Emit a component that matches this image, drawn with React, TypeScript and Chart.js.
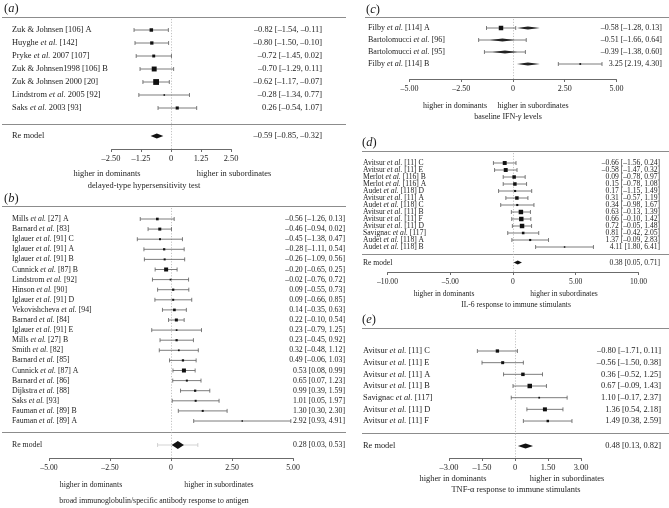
import React, { useEffect, useRef } from 'react';
import { Chart, registerables } from 'chart.js';

Chart.register(...registerables);

// ---------------- data ----------------
// (a) delayed-type hypersensitivity test
const aStudies = ['Zuk & Johnsen [106] A', 'Huyghe et al. [142]', 'Pryke et al. 2007 [107]', 'Zuk & Johnsen1998 [106] B', 'Zuk & Johnsen 2000 [20]', 'Lindstrom et al. 2005 [92]', 'Saks et al. 2003 [93]'];
const aEst = [-0.82, -0.80, -0.72, -0.70, -0.62, -0.28, 0.26];
const aLow = [-1.54, -1.50, -1.45, -1.29, -1.17, -1.34, -0.54];
const aHigh = [-0.11, -0.10, 0.02, 0.11, -0.07, 0.77, 1.07];
const aWeight = [10, 9, 7, 20, 28, 2, 8];
const aModel = [-0.59, -0.85, -0.32];
const aTicks = [-2.5, -1.25, 0, 1.25, 2.5];

// (b) broad immunoglobulin / specific antibody response
const bStudies = ['Mills et al. [27] A', 'Barnard et al. [83]', 'Iglauer et al. [91] C', 'Iglauer et al. [91] A', 'Iglauer et al. [91] B', 'Cunnick et al. [87] B', 'Lindstrom et al. [92]', 'Hinson et al. [90]', 'Iglauer et al. [91] D', 'Vekovishcheva et al. [94]', 'Barnard et al. [84]', 'Iglauer et al. [91] E', 'Mills et al. [27] B', 'Smith et al. [82]', 'Barnard et al. [85]', 'Cunnick et al. [87] A', 'Barnard et al. [86]', 'Dijkstra et al. [88]', 'Saks et al. [93]', 'Fauman et al. [89] B', 'Fauman et al. [89] A'];
const bEst = [-0.56, -0.46, -0.45, -0.28, -0.26, -0.20, -0.02, 0.09, 0.09, 0.14, 0.22, 0.23, 0.23, 0.32, 0.49, 0.53, 0.65, 0.99, 1.01, 1.30, 2.92];
const bLow = [-1.26, -0.94, -1.38, -1.11, -1.09, -0.65, -0.76, -0.55, -0.66, -0.35, -0.10, -0.79, -0.45, -0.48, -0.06, 0.08, 0.07, 0.39, 0.05, 0.30, 0.93];
const bHigh = [0.13, 0.02, 0.47, 0.54, 0.56, 0.25, 0.72, 0.73, 0.85, 0.63, 0.54, 1.25, 0.92, 1.12, 1.03, 0.99, 1.23, 1.59, 1.97, 2.30, 4.91];
const bWeight = [7, 9, 4, 5, 4, 16, 3, 5, 4, 7, 9, 3, 5, 3, 5, 16, 4, 5, 4, 4, 2];
const bModel = [0.28, 0.03, 0.53];
const bPrediction = [-0.55, 1.10];
const bTicks = [-5, -2.5, 0, 2.5, 5];

// (c) baseline IFN-gamma levels
const cStudies = ['Filby et al. [114] A', 'Bartolomucci et al. [96]', 'Bartolomucci et al. [95]', 'Filby et al. [114] B'];
const cEst = [-0.58, -0.51, -0.39, 3.25];
const cLow = [-1.28, -1.66, -1.38, 2.19];
const cHigh = [0.13, 0.64, 0.60, 4.30];
const cWeight = [20, 9, 9, 3];
const cPooled = [0.72, 0.19, 1.30];
const cTicks = [-5, -2.5, 0, 2.5, 5];

// (d) IL-6 response to immune stimulants
const dStudies = ['Avitsur et al. [11] C', 'Avitsur et al. [11] E', 'Merlot et al. [116] B', 'Merlot et al. [116] A', 'Audet et al. [118] D', 'Avitsur et al. [11] A', 'Audet et al. [118] C', 'Avitsur et al. [11] B', 'Avitsur et al. [11] F', 'Avitsur et al. [11] D', 'Savignac et al. [117]', 'Audet et al. [118] A', 'Audet et al. [118] B'];
const dEst = [-0.66, -0.58, 0.09, 0.15, 0.17, 0.31, 0.34, 0.63, 0.66, 0.72, 0.81, 1.37, 4.11];
const dLow = [-1.56, -1.47, -0.78, -0.78, -1.15, -0.57, -0.98, -0.13, -0.10, -0.05, -0.42, -0.09, 1.80];
const dHigh = [0.24, 0.32, 0.97, 1.08, 1.49, 1.19, 1.67, 1.39, 1.42, 1.48, 2.05, 2.83, 6.41];
const dWeight = [14, 14, 11, 11, 4, 11, 4, 18, 18, 18, 6, 4, 2];
const dModel = [0.38, 0.05, 0.71];
const dTicks = [-10, -5, 0, 5, 10];

// (e) TNF-alpha response to immune stimulants
const eStudies = ['Avitsur et al. [11] C', 'Avitsur et al. [11] E', 'Avitsur et al. [11] A', 'Avitsur et al. [11] B', 'Savignac et al. [117]', 'Avitsur et al. [11] D', 'Avitsur et al. [11] F'];
const eEst = [-0.80, -0.56, 0.36, 0.67, 1.10, 1.36, 1.49];
const eLow = [-1.71, -1.50, -0.52, -0.09, -0.17, 0.54, 0.38];
const eHigh = [0.11, 0.38, 1.25, 1.43, 2.37, 2.18, 2.59];
const eWeight = [11, 9, 12, 20, 3, 16, 6];
const eModel = [0.48, 0.13, 0.82];
const eTicks = [-3, -1.5, 0, 1.5, 3];

// ---------------- layout / style ----------------
const SERIF = '"Liberation Serif", "Times New Roman", serif';
const AXIS_H = 16;
const TEXT = '#1c1c1c';

type Spec = {
  id: string; tag: string;
  left: number; top: number; width: number; height: number;
  studies: string[]; est: number[]; low: number[]; high: number[]; weight: number[];
  model?: number[]; prediction?: number[];
  ticks: number[];
  zeroX: number; ppu: number;
  row0: number; rowStep: number;
  tagX: number; tagY: number;
  rules: number[]; ruleX0: number; ruleX1: number;
  modelY?: number; axisY: number;
  labelX: number; ciRight: number;
  font: number; markerK: number; diamondH: number;
  lowAt: [number, number]; highAt: [number, number];
  title: string; titleAt: [number, number];
  lensRows?: number[]; pooled?: number[]; pooledRows?: number[];
};

const specs: Spec[] = [
  {
    id: 'a', tag: 'a', left: 0, top: 0, width: 348, height: 192,
    studies: aStudies, est: aEst, low: aLow, high: aHigh, weight: aWeight, model: aModel,
    ticks: aTicks, zeroX: 171, ppu: 24, row0: 30, rowStep: 13,
    tagX: 4, tagY: 9, rules: [17, 124], ruleX0: 2, ruleX1: 346, modelY: 136, axisY: 149,
    labelX: 12, ciRight: 322, font: 8.4, markerK: 1.1, diamondH: 2.5,
    lowAt: [107, 174], highAt: [234, 174], title: 'delayed-type hypersensitivity test', titleAt: [144, 186],
  },
  {
    id: 'b', tag: 'b', left: 0, top: 192, width: 348, height: 316,
    studies: bStudies, est: bEst, low: bLow, high: bHigh, weight: bWeight, model: bModel, prediction: bPrediction,
    ticks: bTicks, zeroX: 171, ppu: 24.4, row0: 219, rowStep: 10.1,
    tagX: 4, tagY: 199, rules: [206, 432], ruleX0: 2, ruleX1: 346, modelY: 445, axisY: 458,
    labelX: 12, ciRight: 345, font: 7.8, markerK: 1.0, diamondH: 4,
    lowAt: [91, 485], highAt: [219, 485], title: 'broad immunoglobulin/specific antibody response to antigen', titleAt: [154, 501],
  },
  {
    id: 'c', tag: 'c', left: 348, top: 0, width: 321, height: 125,
    studies: cStudies, est: cEst, low: cLow, high: cHigh, weight: cWeight,
    ticks: cTicks, zeroX: 513, ppu: 20.7, row0: 28, rowStep: 12,
    tagX: 366, tagY: 10, rules: [17], ruleX0: 365, ruleX1: 669, axisY: 79,
    labelX: 368, ciRight: 662, font: 8.0, markerK: 1.0, diamondH: 2,
    lowAt: [455, 106], highAt: [533, 106], title: 'baseline IFN-γ levels', titleAt: [508, 117],
    lensRows: [1, 2], pooled: cPooled, pooledRows: [0, 3],
  },
  {
    id: 'd', tag: 'd', left: 348, top: 125, width: 321, height: 187,
    studies: dStudies, est: dEst, low: dLow, high: dHigh, weight: dWeight, model: dModel,
    ticks: dTicks, zeroX: 513, ppu: 12.55, row0: 163, rowStep: 7.0,
    tagX: 362, tagY: 143, rules: [151, 254], ruleX0: 362, ruleX1: 669, modelY: 262.5, axisY: 272,
    labelX: 363, ciRight: 660, font: 7.6, markerK: 1.05, diamondH: 2,
    lowAt: [444, 294], highAt: [564, 294], title: 'IL-6 response to immune stimulants', titleAt: [516, 305],
  },
  {
    id: 'e', tag: 'e', left: 348, top: 312, width: 321, height: 196,
    studies: eStudies, est: eEst, low: eLow, high: eHigh, weight: eWeight, model: eModel,
    ticks: eTicks, zeroX: 515, ppu: 22, row0: 351, rowStep: 11.67,
    tagX: 362, tagY: 320, rules: [328, 433], ruleX0: 362, ruleX1: 669, modelY: 446, axisY: 458,
    labelX: 363, ciRight: 661, font: 8.4, markerK: 1.0, diamondH: 2.5,
    lowAt: [453, 479], highAt: [567, 479], title: 'TNF-α response to immune stimulants', titleAt: [516, 490],
  },
];

// ---------------- helpers ----------------
function fmt(v: number): string {
  if (Math.abs(v) < 1e-9) return '0';
  return (v < 0 ? '\u2013' : '') + Math.abs(v).toFixed(2);
}
function ciText(e: number, l: number, h: number): string {
  return `${fmt(e)} [${fmt(l)}, ${fmt(h)}]`;
}

function richText(ctx: CanvasRenderingContext2D, text: string, x: number, y: number, size: number, align: 'left' | 'right' | 'center', italicParts: RegExp = /(et al\.|γ)/) {
  const parts = text.split(italicParts).filter((s) => s.length > 0);
  const isIt = (s: string) => s === 'et al.' || s === 'γ' || (s.length === 1 && /[a-e]/.test(s));
  const fontOf = (s: string) => `${isIt(s) ? 'italic ' : ''}${size}px ${SERIF}`;
  let total = 0;
  const ws = parts.map((s) => { ctx.font = fontOf(s); const w = ctx.measureText(s).width; total += w; return w; });
  let cx = align === 'left' ? x : align === 'right' ? x - total : x - total / 2;
  ctx.textAlign = 'left';
  ctx.textBaseline = 'middle';
  ctx.fillStyle = TEXT;
  parts.forEach((s, i) => { ctx.font = fontOf(s); ctx.fillText(s, cx, y); cx += ws[i]; });
}

function drawDiamond(ctx: CanvasRenderingContext2D, xl: number, xc: number, xr: number, y: number, h: number, color: string) {
  ctx.beginPath();
  ctx.moveTo(xl, y);
  ctx.lineTo(xc, y - h);
  ctx.lineTo(xr, y);
  ctx.lineTo(xc, y + h);
  ctx.closePath();
  ctx.fillStyle = color;
  ctx.fill();
}

function makePlugin(s: Spec) {
  return {
    id: 'forest_' + s.id,
    beforeDatasetsDraw(chart: any) {
      const ctx: CanvasRenderingContext2D = chart.ctx;
      const xs = chart.scales.x;
      const ys = chart.scales.y;
      const X = (v: number) => xs.getPixelForValue(v);
      const Y = (v: number) => ys.getPixelForValue(v);
      const rowOf = (py: number) => (py - s.row0) / s.rowStep;
      const lx = (px: number) => px - s.left;
      ctx.save();
      // horizontal rules
      ctx.strokeStyle = '#8c8c8c';
      ctx.lineWidth = 1;
      s.rules.forEach((ry) => {
        const y = Math.round(Y(rowOf(ry))) + 0.5;
        ctx.beginPath();
        ctx.moveTo(lx(s.ruleX0), y);
        ctx.lineTo(lx(s.ruleX1), y);
        ctx.stroke();
      });
      // dotted reference line at zero
      ctx.strokeStyle = '#b4b4b4';
      ctx.lineWidth = 0.8;
      ctx.setLineDash([1.2, 1.6]);
      const zx = Math.round(X(0)) + 0.5;
      ctx.beginPath();
      ctx.moveTo(zx, Y(rowOf(s.rules[0])) + 2);
      ctx.lineTo(zx, Y(rowOf(s.axisY)));
      ctx.stroke();
      ctx.setLineDash([]);
      // confidence intervals
      ctx.strokeStyle = '#5c5c5c';
      ctx.lineWidth = 0.8;
      s.est.forEach((_, i) => {
        const y = Y(i);
        const x1 = X(s.low[i]);
        const x2 = X(s.high[i]);
        ctx.beginPath();
        ctx.moveTo(x1, y); ctx.lineTo(x2, y);
        ctx.moveTo(x1, y - 2); ctx.lineTo(x1, y + 2);
        ctx.moveTo(x2, y - 2); ctx.lineTo(x2, y + 2);
        ctx.stroke();
      });
      // lens-shaped markers (panel c)
      (s.lensRows || []).forEach((i) => {
        drawDiamond(ctx, X(s.est[i] - 0.6), X(s.est[i]), X(s.est[i] + 0.6), Y(i), 1.6, '#222');
      });
      (s.pooledRows || []).forEach((i) => {
        const p = s.pooled!;
        drawDiamond(ctx, X(p[1]), X(p[0]), X(p[2]), Y(i), 1.6, '#222');
      });
      // summary (RE model)
      if (s.model && s.modelY !== undefined) {
        const y = Y(rowOf(s.modelY));
        if (s.prediction) {
          ctx.strokeStyle = '#c8c8c8';
          ctx.lineWidth = 0.8;
          const p1 = X(s.prediction[0]);
          const p2 = X(s.prediction[1]);
          ctx.beginPath();
          ctx.moveTo(p1, y); ctx.lineTo(p2, y);
          ctx.moveTo(p1, y - 2); ctx.lineTo(p1, y + 2);
          ctx.moveTo(p2, y - 2); ctx.lineTo(p2, y + 2);
          ctx.stroke();
        }
        drawDiamond(ctx, X(s.model[1]), X(s.model[0]), X(s.model[2]), y, s.diamondH, '#111');
      }
      ctx.restore();
    },
    afterDraw(chart: any) {
      const ctx: CanvasRenderingContext2D = chart.ctx;
      const ys = chart.scales.y;
      const Y = (v: number) => ys.getPixelForValue(v);
      const rowOf = (py: number) => (py - s.row0) / s.rowStep;
      const lx = (px: number) => px - s.left;
      const ly = (py: number) => py - s.top;
      ctx.save();
      // panel tag
      richText(ctx, `(${s.tag})`, lx(s.tagX), ly(s.tagY), 12.5, 'left', /([a-e])/);
      // study rows
      s.studies.forEach((name, i) => {
        richText(ctx, name, lx(s.labelX), Y(i), s.font, 'left');
        richText(ctx, ciText(s.est[i], s.low[i], s.high[i]), lx(s.ciRight), Y(i), s.font, 'right');
      });
      if (s.model && s.modelY !== undefined) {
        const y = Y(rowOf(s.modelY));
        richText(ctx, 'Re model', lx(s.labelX), y, s.font, 'left');
        richText(ctx, ciText(s.model[0], s.model[1], s.model[2]), lx(s.ciRight), y, s.font, 'right');
      }
      richText(ctx, 'higher in dominants', lx(s.lowAt[0]), ly(s.lowAt[1]), s.font, 'center');
      richText(ctx, 'higher in subordinates', lx(s.highAt[0]), ly(s.highAt[1]), s.font, 'center');
      richText(ctx, s.title, lx(s.titleAt[0]), ly(s.titleAt[1]), s.font, 'center');
      ctx.restore();
    },
  };
}

function ForestPanel({ spec }: { spec: Spec }) {
  const ref = useRef<HTMLCanvasElement | null>(null);
  useEffect(() => {
    const canvas = ref.current;
    if (!canvas) return;
    const s = spec;
    const xMin = s.ticks[0];
    const xMax = s.ticks[s.ticks.length - 1];
    const padL = s.zeroX + xMin * s.ppu - s.left;
    const padR = s.width - (s.zeroX + xMax * s.ppu - s.left);
    const padT = 2;
    const vTop = (s.top + padT - s.row0) / s.rowStep;
    const vAxis = (s.axisY - s.row0) / s.rowStep;
    const padB = s.height - (s.axisY - s.top) - AXIS_H;
    const lens = new Set(s.lensRows || []);
    const chart = new Chart(canvas, {
      type: 'scatter',
      data: {
        datasets: [{
          data: s.est.map((v, i) => ({ x: v, y: i })),
          pointStyle: 'rect',
          pointRadius: s.weight.map((w, i) => (lens.has(i) ? 0 : (Math.sqrt(w) * s.markerK) / Math.SQRT2)),
          backgroundColor: '#111',
          borderWidth: 0,
          clip: false as any,
        }],
      },
      options: {
        animation: false,
        responsive: false,
        events: [],
        layout: { autoPadding: false, padding: { left: padL, right: padR, top: padT, bottom: padB } },
        scales: {
          x: {
            type: 'linear',
            position: 'bottom',
            min: xMin,
            max: xMax,
            afterFit: (sc: any) => { sc.height = AXIS_H; },
            afterBuildTicks: (sc: any) => { sc.ticks = s.ticks.map((v) => ({ value: v })); },
            border: { display: true, color: '#454545', width: 0.8 },
            grid: { display: true, drawOnChartArea: false, drawTicks: true, tickLength: 3, color: '#454545', lineWidth: 0.8 },
            ticks: {
              autoSkip: false, maxRotation: 0, padding: 2, color: TEXT,
              font: { family: SERIF, size: s.font },
              callback: (v: any) => fmt(Number(v)),
            },
          },
          y: { type: 'linear', display: false, min: vTop, max: vAxis, reverse: true },
        },
        plugins: { legend: { display: false }, tooltip: { enabled: false } },
      } as any,
      plugins: [makePlugin(s)],
    });
    return () => chart.destroy();
  }, [spec]);
  return (
    <canvas
      ref={ref}
      width={spec.width}
      height={spec.height}
      style={{ position: 'absolute', left: spec.left, top: spec.top, width: spec.width, height: spec.height }}
    />
  );
}

export default function App() {
  return (
    <div style={{ position: 'fixed', left: 0, top: 0, width: 669, height: 508, background: '#ffffff', overflow: 'hidden' }}>
      {specs.map((s) => <ForestPanel key={s.id} spec={s} />)}
    </div>
  );
}
